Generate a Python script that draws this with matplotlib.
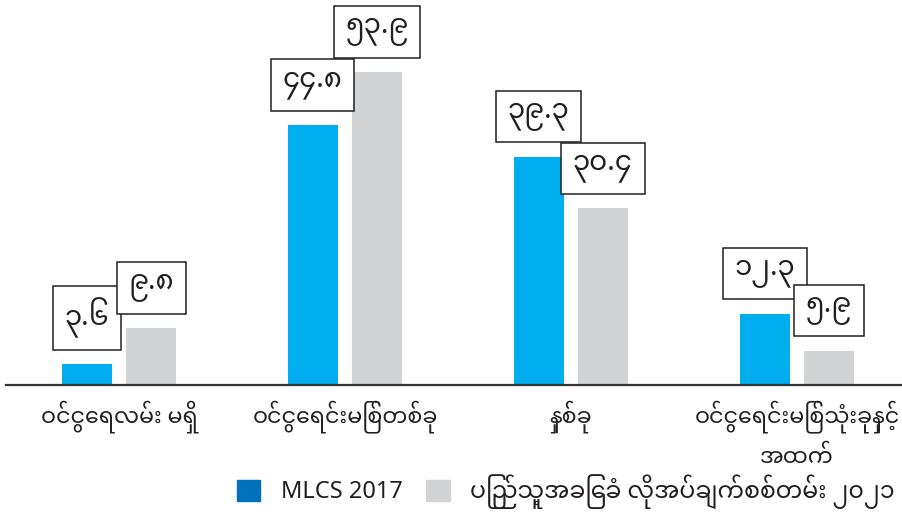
import numpy as np
import matplotlib
matplotlib.use("Agg")
import matplotlib.pyplot as plt
from matplotlib.patches import Patch

plt.rcParams['font.family'] = ['Noto Sans Myanmar', 'Noto Sans', 'DejaVu Sans']

# --- datos ---
categorias = ["ဝင်ငွေရလမ်း မရှိ", "ဝင်ငွေရင်းမြစ်တစ်ခု", "နှစ်ခု",
              "ဝင်ငွေရင်းမြစ်သုံးခုနှင့်\nအထက်"]
mlcs_2017 = [3.6, 44.8, 39.3, 12.3]
encuesta_2021 = [9.8, 53.9, 30.4, 5.9]
etiquetas_2017 = ["၃.၆", "၄၄.၈", "၃၉.၃", "၁၂.၃"]
etiquetas_2021 = ["၉.၈", "၅၃.၉", "၃၀.၄", "၅.၉"]
series = ["MLCS 2017", "ပြည်သူ့အခြေခံ လိုအပ်ချက်စစ်တမ်း ၂၀၂၁"]

azul = "#00AEEF"
azul_leyenda = "#0072BC"
gris = "#D1D3D4"

fig = plt.figure(figsize=(9.02, 5.14), dpi=100)
ax = fig.add_axes([6 / 902, 129 / 514, 896 / 902, 385 / 514])

x = np.arange(len(categorias))
w = 0.221
off = 0.142
b1 = ax.bar(x - off, mlcs_2017, w, color=azul)
b2 = ax.bar(x + off, encuesta_2021, w, color=gris)

ax.set_xlim(-0.5, 3.465)
ax.set_ylim(0, 66.3)

# etiquetas en cajas
for barras, etiquetas in [(b1, etiquetas_2017), (b2, etiquetas_2021)]:
    for rect, txt in zip(barras, etiquetas):
        ax.annotate(txt, (rect.get_x() + rect.get_width() / 2, rect.get_height()),
                    xytext=(0, 26), textcoords='offset pixels',
                    ha='center', va='bottom', fontsize=20, color='#231f20',
                    fontweight='light',
                    bbox=dict(boxstyle='square,pad=0.42', fc='white', ec='#231f20', lw=1.1))

for s in ['top', 'right', 'left']:
    ax.spines[s].set_visible(False)
ax.spines['bottom'].set_color('#333333')
ax.spines['bottom'].set_linewidth(1.6)
ax.set_yticks([])
ax.set_xticks(x)
ax.set_xticklabels(categorias, fontsize=16, color='#231f20', linespacing=1.75)
ax.tick_params(axis='x', length=0, pad=11)

handles = [Patch(color=azul_leyenda), Patch(color=gris)]
fig.legend(handles, series, loc='center', bbox_to_anchor=(0.627, 0.043), ncol=2,
           frameon=False, fontsize=17, handlelength=1.0, handleheight=1.0,
           columnspacing=1.0, handletextpad=0.85, labelcolor='#231f20')

fig.savefig("out.png", dpi=100)
